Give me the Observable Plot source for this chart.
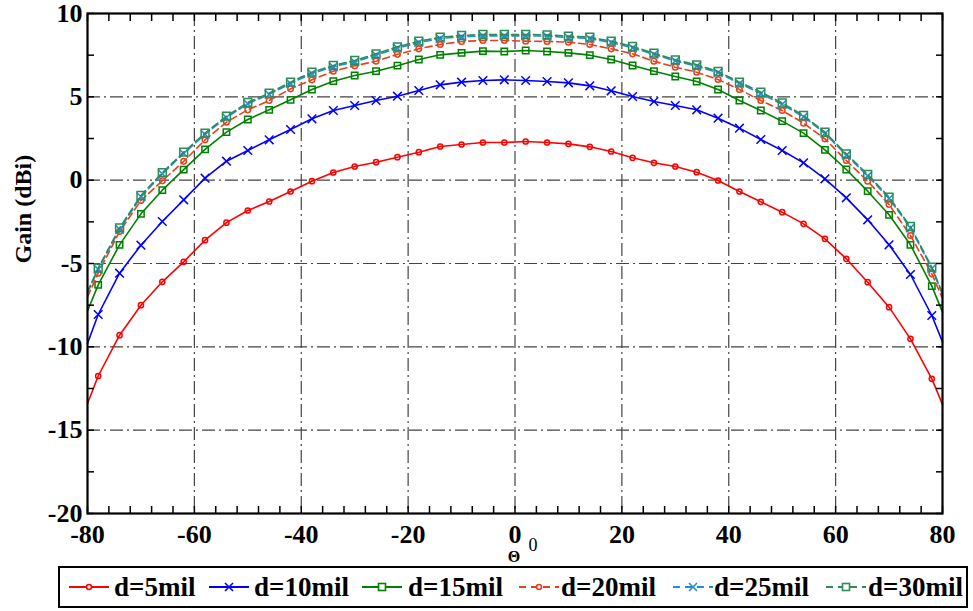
<!DOCTYPE html>
<html>
<head>
<meta charset="utf-8">
<script src="https://cdn.jsdelivr.net/npm/d3@7"></script>
<script src="https://cdn.jsdelivr.net/npm/@observablehq/plot@0.6"></script>
<style>
  body { margin: 0; background: #fff; font-family: "Liberation Serif", "Times New Roman", serif; }
  #wrap { position: relative; width: 973px; height: 611px; overflow: hidden; }
  #chart { position: absolute; left: 0; top: 0; }
  #chart svg { overflow: visible; }
  #legend { position: absolute; left: 58px; top: 566px; width: 906px; height: 38px; border: 2px solid #000; background: #fff; }
  .samp { position: absolute; top: 9px; }
  .lbl { position: absolute; top: 0; line-height: 38px; font-size: 27px; font-weight: bold; color: #000; white-space: nowrap; }
</style>
</head>
<body>
<div id="wrap">
  <div id="chart"></div>
  <div id="legend"></div>
</div>
<script>
// ---- data ----
const theta = [-80, -78, -74, -70, -66, -62, -58, -54, -50, -46, -42, -38, -34, -30, -26, -22, -18, -14, -10, -6, -2,
               2, 6, 10, 14, 18, 22, 26, 30, 34, 38, 42, 46, 50, 54, 58, 62, 66, 70, 74, 78, 80];
const gain5 = [-13.4, -11.75, -9.3, -7.5, -6.1, -4.9, -3.6, -2.55, -1.82, -1.28, -0.68, -0.06, 0.46, 0.82, 1.08, 1.38, 1.68, 2.02, 2.14, 2.26, 2.26,
               2.32, 2.26, 2.18, 2.0, 1.72, 1.34, 1.04, 0.82, 0.48, -0.02, -0.68, -1.3, -1.92, -2.62, -3.52, -4.72, -6.12, -7.62, -9.52, -11.92, -13.45];
const gain10 = [-9.8, -8.06, -5.58, -3.9, -2.48, -1.18, 0.12, 1.14, 1.78, 2.42, 3.04, 3.68, 4.18, 4.48, 4.78, 5.04, 5.38, 5.72, 5.88, 5.98, 6.02,
                5.98, 5.92, 5.84, 5.66, 5.36, 5.02, 4.72, 4.48, 4.22, 3.72, 3.12, 2.44, 1.78, 1.04, 0.08, -1.06, -2.38, -3.88, -5.66, -8.12, -9.7];
const gain15 = [-7.85, -6.28, -3.88, -2.02, -0.6, 0.63, 1.85, 2.88, 3.64, 4.22, 4.82, 5.44, 5.94, 6.28, 6.54, 6.87, 7.24, 7.52, 7.64, 7.74, 7.72,
                7.78, 7.72, 7.64, 7.5, 7.24, 6.88, 6.54, 6.22, 5.92, 5.44, 4.78, 4.18, 3.54, 2.82, 1.82, 0.64, -0.66, -2.08, -3.88, -6.36, -7.92];
const gain20 = [-7.0, -5.58, -3.08, -1.22, -0.04, 1.13, 2.42, 3.48, 4.22, 4.78, 5.48, 6.02, 6.54, 6.86, 7.14, 7.55, 7.88, 8.14, 8.32, 8.38, 8.38,
                8.34, 8.32, 8.28, 8.14, 7.88, 7.58, 7.14, 6.78, 6.48, 6.04, 5.44, 4.78, 4.18, 3.42, 2.48, 1.18, -0.06, -1.46, -3.32, -5.62, -7.1];
const gain25 = [-6.75, -5.35, -2.95, -1.0, 0.38, 1.6, 2.75, 3.76, 4.58, 5.15, 5.8, 6.4, 6.8, 7.1, 7.5, 7.92, 8.26, 8.5, 8.6, 8.66, 8.66,
                8.66, 8.64, 8.56, 8.5, 8.26, 7.94, 7.55, 7.15, 6.84, 6.45, 5.8, 5.2, 4.55, 3.8, 2.8, 1.5, 0.26, -1.1, -2.86, -5.3, -6.85];
const gain30 = [-6.7, -5.28, -2.86, -0.92, 0.45, 1.68, 2.82, 3.84, 4.66, 5.22, 5.88, 6.48, 6.88, 7.18, 7.58, 8.0, 8.34, 8.58, 8.68, 8.74, 8.74,
                8.74, 8.72, 8.64, 8.58, 8.34, 8.02, 7.62, 7.22, 6.92, 6.52, 5.88, 5.28, 4.63, 3.88, 2.88, 1.58, 0.34, -1.02, -2.78, -5.22, -6.8];

const seriesNames = ["d=5mil", "d=10mil", "d=15mil", "d=20mil", "d=25mil", "d=30mil"];
const xTicks = [-80, -60, -40, -20, 0, 20, 40, 60, 80];
const yTicks = [-20, -15, -10, -5, 0, 5, 10];
const xMinorTicks = d3.range(-80, 81, 4);
const yMinorTicks = d3.range(-20, 10.01, 2.5);
const xGrid = [-60, -40, -20, 0, 20, 40, 60];
const yGrid = [-15, -10, -5, 0, 5];

// ---- styles ----
const allGains = [gain5, gain10, gain15, gain20, gain25, gain30];
const colors = ["#ff0000", "#0000ff", "#008000", "#e8401c", "#1f8fd6", "#2e8b57"];
const dashes = [null, null, null, "7,4", "7,4", "7,4"];
const symbols = ["circle", "times", "square", "circle", "times", "square"];
const radii = [2.6, 4, 3.6, 2.8, 4, 4.4];

const seriesMarks = [];
allGains.forEach((g, s) => {
  const rows = theta.map((t, i) => ({theta: t, gain: g[i], marker: i > 0 && i < theta.length - 1}));
  seriesMarks.push(Plot.line(rows, {x: "theta", y: "gain", stroke: colors[s], strokeWidth: 1.6, strokeDasharray: dashes[s]}));
  seriesMarks.push(Plot.dot(rows.filter(d => d.marker), {x: "theta", y: "gain", symbol: () => symbols[s], r: radii[s],
    stroke: colors[s], fill: "none", strokeWidth: 1.5}));
});

const fmt = d => String(d);
const W = 973, H = 566;
const chart = Plot.plot({
  width: W, height: H,
  marginLeft: 87, marginRight: 31, marginTop: 13, marginBottom: H - 513,
  style: {fontFamily: "Liberation Serif, Times New Roman, serif", background: "#fff", overflow: "visible"},
  x: {domain: [-80, 80], label: null},
  y: {domain: [-20, 10], label: null},
  symbol: {type: "identity"},
  marks: [
    Plot.gridX(xGrid, {stroke: "#444", strokeOpacity: 1, strokeWidth: 1.2, strokeDasharray: "13,4,2,4"}),
    Plot.gridY(yGrid, {stroke: "#444", strokeOpacity: 1, strokeWidth: 1.2, strokeDasharray: "13,4,2,4"}),
    ...seriesMarks,
    Plot.axisX(xMinorTicks, {anchor: "bottom", tickSize: -7, tickFormat: () => "", strokeWidth: 1.5, label: null}),
    Plot.axisX(xMinorTicks, {anchor: "top", tickSize: -7, tickFormat: () => "", strokeWidth: 1.5, label: null}),
    Plot.axisY(yMinorTicks, {anchor: "left", tickSize: -7, tickFormat: () => "", strokeWidth: 1.5, label: null}),
    Plot.axisY(yMinorTicks, {anchor: "right", tickSize: -7, tickFormat: () => "", strokeWidth: 1.5, label: null}),
    Plot.axisX(xTicks, {anchor: "bottom", tickSize: 0, tickPadding: 11, tickFormat: fmt, fontSize: 26, fontWeight: "bold", fill: "#000", label: null}),
    Plot.axisY(yTicks, {anchor: "left", tickSize: 0, tickPadding: 5, tickFormat: fmt, fontSize: 26, fontWeight: "bold", fill: "#000", label: null}),
    Plot.frame({stroke: "#000", strokeWidth: 2.2}),
    Plot.text(["Gain (dBi)"], {frameAnchor: "left", rotate: -90, dx: -64, fontSize: 24, fontWeight: "bold", fill: "#000"}),
    Plot.text(["\u0398"], {frameAnchor: "bottom", dy: 48, dx: -1, fontSize: 16, fontWeight: "bold", fill: "#000"}),
    Plot.text(["0"], {frameAnchor: "bottom", dy: 37, dx: 18, fontSize: 18, fill: "#000"})
  ]
});
document.getElementById("chart").appendChild(chart);

// ---- legend (HTML below the SVG) ----
const legendSampleX = [8, 148, 301, 458, 612, 765];
const legendTextX = [54, 194, 348, 501, 654, 808];
const legend = document.getElementById("legend");
const ns = "http://www.w3.org/2000/svg";
seriesNames.forEach((name, s) => {
  const svg = document.createElementNS(ns, "svg");
  svg.setAttribute("width", 42); svg.setAttribute("height", 20);
  svg.setAttribute("class", "samp");
  svg.style.left = legendSampleX[s] + "px";
  const ln = document.createElementNS(ns, "line");
  ln.setAttribute("x1", 1); ln.setAttribute("x2", 41); ln.setAttribute("y1", 10); ln.setAttribute("y2", 10);
  ln.setAttribute("stroke", colors[s]); ln.setAttribute("stroke-width", 2);
  if (dashes[s]) ln.setAttribute("stroke-dasharray", "7,5");
  svg.appendChild(ln);
  let m;
  if (symbols[s] === "circle") {
    m = document.createElementNS(ns, "circle");
    m.setAttribute("cx", 21); m.setAttribute("cy", 10); m.setAttribute("r", 2.5);
  } else if (symbols[s] === "square") {
    m = document.createElementNS(ns, "rect");
    m.setAttribute("x", 17.5); m.setAttribute("y", 6.5); m.setAttribute("width", 7); m.setAttribute("height", 7);
  } else {
    m = document.createElementNS(ns, "path");
    m.setAttribute("d", "M17,6L25,14M25,6L17,14");
  }
  m.setAttribute("fill", "#fff"); m.setAttribute("stroke", colors[s]); m.setAttribute("stroke-width", 1.6);
  svg.appendChild(m);
  legend.appendChild(svg);
  const t = document.createElement("div");
  t.className = "lbl";
  t.style.left = legendTextX[s] + "px";
  t.textContent = name;
  legend.appendChild(t);
});
</script>
</body>
</html>
